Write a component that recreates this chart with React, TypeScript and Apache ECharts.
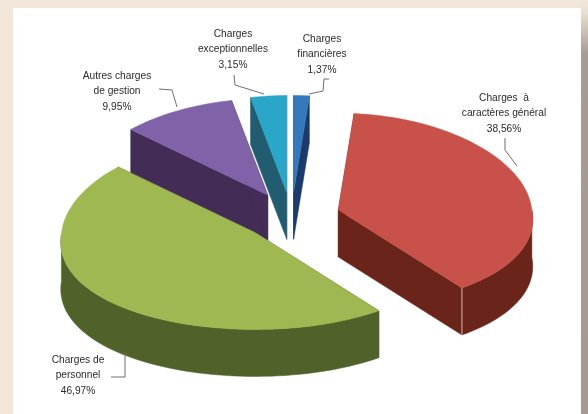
import React, { useEffect, useRef } from "react";
import * as echarts from "echarts";

const categories = ["Charges financières", "Charges à caractères général", "Charges de personnel", "Autres charges de gestion", "Charges exceptionnelles"];
const shares = [1.37, 38.56, 46.97, 9.95, 3.15];
const shareLabels = ["1,37%", "38,56%", "46,97%", "9,95%", "3,15%"];
const labelLines = [
  ["Charges", "financières"],
  ["Charges  à", "caractères général"],
  ["Charges de", "personnel"],
  ["Autres charges", "de gestion"],
  ["Charges", "exceptionnelles"],
];
const topColors = ["#3578BC", "#C8524A", "#A0B852", "#8062A9", "#2AA6C8"];
const sideColors = ["#1C3A6B", "#6A2419", "#50622A", "#432D57", "#215C70"];
const drawOrder = [3, 4, 0, 2, 1];

// layout of the projected pie
const CX = 291.5, CY = 216.5, R = 193.5, TILT = 0.5, EXPLODE = 48.6, DEPTH = 47, WARP_BACK = 0.05, WARP_FRONT = 0.1;
const labelPos = [[322, 38], [504, 97], [78, 359], [117, 75], [233, 33]];
const leaderPaths = [
  [[329, 79], [324, 79], [323, 91], [309, 94]],
  [[505, 138], [505, 150], [517, 166]],
  [[111, 377], [125, 377], [125, 352]],
  [[159, 89], [172, 90], [177, 107]],
  [[234, 75], [235, 85], [264, 94]],
];

const project = (deg: number) => {
  const t = (deg * Math.PI) / 180;
  const y = Math.cos(t);
  const warp = y > 0 ? WARP_BACK : WARP_FRONT;
  return [R * Math.sin(t) * (1 - warp * y), -R * TILT * y];
};

const cumul = shares.map((_, i) => shares.slice(0, i).reduce((a, b) => a + b, 0));
const rows = drawOrder.map((i) => [cumul[i], shares[i], i]);

const renderSlice = (_: any, api: any) => {
  const a0 = (api.value(0) * 360) / 100;
  const a1 = a0 + (api.value(1) * 360) / 100;
  const idx = api.value(2);
  const mid = ((a0 + a1) / 2) * Math.PI / 180;
  const ax = CX + EXPLODE * Math.sin(mid);
  const ay = CY - EXPLODE * TILT * Math.cos(mid);
  const top = topColors[idx], side = sideColors[idx];
  const arc: number[][] = [];
  const steps = Math.max(2, Math.ceil((a1 - a0) / 2));
  for (let s = 0; s <= steps; s++) {
    const p = project(a0 + ((a1 - a0) * s) / steps);
    arc.push([ax + p[0], ay + p[1]]);
  }
  const down = (p: number[]) => [p[0], p[1] + DEPTH];
  const poly = (points: number[][], fill: string) => ({
    type: "polygon",
    shape: { points },
    style: { fill, stroke: fill, lineWidth: 0.5 },
  });
  const apex = [ax, ay];
  const first = arc[0], last = arc[arc.length - 1];
  const children: any[] = [
    poly([apex, first, down(first), down(apex)], side),
    poly([apex, last, down(last), down(apex)], side),
  ];
  const front: number[][] = [];
  for (let s = 0; s <= steps; s++) {
    const deg = a0 + ((a1 - a0) * s) / steps;
    if (Math.cos((deg * Math.PI) / 180) < 0) front.push(arc[s]);
  }
  if (front.length > 1) children.push(poly([...front, ...front.slice().reverse().map(down)], side));
  children.push(poly([apex, ...arc], top));
  if (idx === 1) {
    children.push({
      type: "line",
      shape: { x1: last[0], y1: last[1], x2: last[0], y2: last[1] + DEPTH },
      style: { stroke: "#D9B7A8", lineWidth: 1 },
    });
  }
  return { type: "group", children };
};

export default function App() {
  const ref = useRef<HTMLDivElement>(null);
  useEffect(() => {
    document.body.style.margin = "0";
    const chart = echarts.init(ref.current!, undefined, { renderer: "svg" });
    chart.setOption({
      animation: false,
      backgroundColor: "#F2E7D9",
      graphic: [
        { type: "rect", z: -2, shape: { x: 13, y: 8, width: 568, height: 406 }, style: { fill: "#FFFFFF" } },
        {
          type: "rect", z: -2, shape: { x: 581, y: 0, width: 7, height: 414 },
          style: {
            fill: new echarts.graphic.LinearGradient(0, 0, 0, 1, [
              { offset: 0, color: "#F2E7D9" },
              { offset: 0.03, color: "#E9DFD1" },
              { offset: 0.13, color: "#A59D91" },
              { offset: 1, color: "#A39B8F" },
            ]),
          },
        },
        ...leaderPaths.map((points) => ({
          type: "polyline", z: 10, shape: { points },
          style: { stroke: "#6E6E6E", lineWidth: 1, fill: "none" },
        })),
        ...categories.map((name, i) => ({
          type: "text", z: 10, x: labelPos[i][0], y: labelPos[i][1] - 7.75,
          info: name,
          style: {
            text: [...labelLines[i], shareLabels[i]].join("\n"),
            fontFamily: "Liberation Sans", fontSize: 10.2, lineHeight: 15.5,
            fill: "#2A2A2A", align: "center", verticalAlign: "top",
          },
        })),
      ],
      series: [{
        type: "custom", coordinateSystem: "none", silent: true,
        data: rows, renderItem: renderSlice,
      }],
    });
    return () => chart.dispose();
  }, []);
  return <div ref={ref} style={{ position: "absolute", left: 0, top: 0, width: 588, height: 414, filter: "blur(0.6px)" }} />;
}
